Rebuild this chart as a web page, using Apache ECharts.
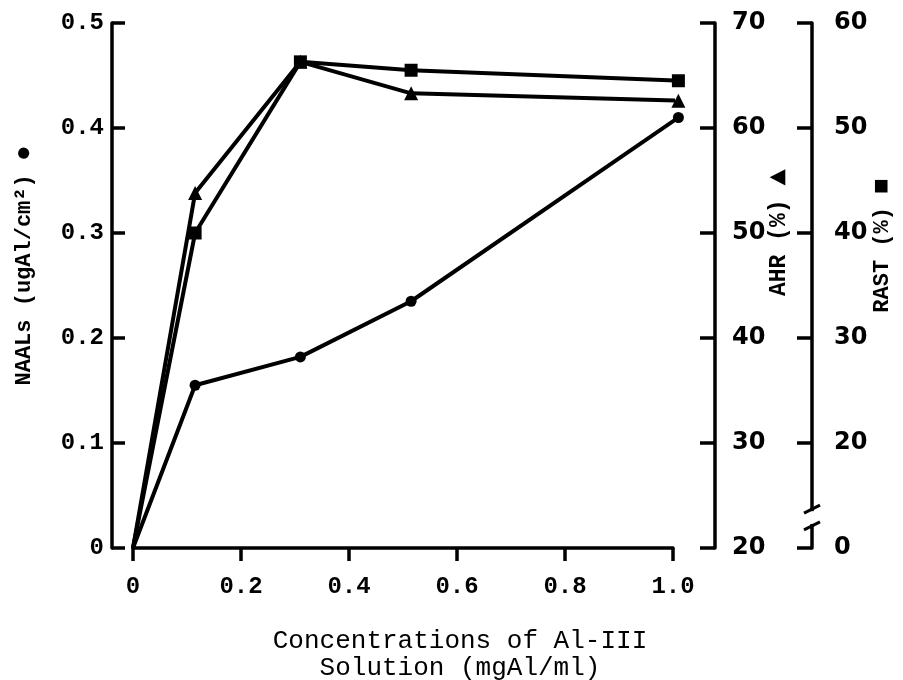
<!DOCTYPE html>
<html><head><meta charset="utf-8">
<script src="https://cdn.jsdelivr.net/npm/echarts@6/dist/echarts.min.js"></script>
<style>html,body{margin:0;padding:0;background:#fff}#c{width:903px;height:680px}</style>
</head><body><div id="c"></div>
<script>
// Concentrations of Al-III solution (mgAl/ml)
const concentrations = [0, 0.115, 0.31, 0.515, 1.01];
// NAALs (ugAl/cm2) - circles
const naals = [0, 0.155, 0.182, 0.235, 0.41];
// AHR (%) - triangles
const ahr = [20, 53.8, 66.3, 63.3, 62.6];
// RAST (%) - squares (axis broken between 0 and 10)
const rast = [0, 40, 56.3, 55.5, 54.5];

const xTickLabels = ['0', '0.2', '0.4', '0.6', '0.8', '1.0'];
const naalsTickLabels = ['0', '0.1', '0.2', '0.3', '0.4', '0.5'];
const ahrTickLabels = ['20', '30', '40', '50', '60', '70'];
const rastTickLabels = ['0', '20', '30', '40', '50', '60'];

const RAST_BREAK = 10; // values below this sit at the broken axis bottom
const rastPlot = v => (v < RAST_BREAK ? RAST_BREAK : v);

const MONO = 'Liberation Mono';
const SANS = 'DejaVu Sans';
const lineAxis = { show: true, onZero: false, lineStyle: { color: '#000', width: 3.5 } };

// origin point drawn without a marker, as in the figure
const pt = (x, y, i) => (i === 0 ? { value: [x, y], symbol: 'none' } : [x, y]);

const chart = echarts.init(document.getElementById('c'), null, { renderer: 'canvas' });
const option = {
  backgroundColor: '#fff',
  animation: false,
  grid: { left: 133, right: 230, top: 23, bottom: 132, containLabel: false, outerBoundsMode: 'none' },
  xAxis: {
    type: 'value', min: 0, max: 1.0, interval: 0.2,
    axisLine: lineAxis,
    axisTick: { show: true, inside: false, length: 13, lineStyle: { color: '#000', width: 3.5 } },
    splitLine: { show: false },
    axisLabel: {
      margin: 27, color: '#000', fontFamily: MONO, fontWeight: 'bold', fontSize: 24,
      formatter: (v, i) => xTickLabels[i]
    },
    name: 'Concentrations of Al-III\nSolution (mgAl/ml)',
    nameLocation: 'middle', nameGap: 80,
    nameTextStyle: { color: '#000', fontFamily: MONO, fontSize: 26, lineHeight: 27, padding: [0, 0, 0, 114] }
  },
  yAxis: [
    {
      type: 'value', min: 0, max: 0.5, interval: 0.1, position: 'left', offset: 21,
      axisLine: lineAxis,
      axisTick: { show: true, inside: true, length: 13, lineStyle: { color: '#000', width: 3.5 } },
      splitLine: { show: false },
      axisLabel: {
        margin: 8, color: '#000', fontFamily: MONO, fontWeight: 'bold', fontSize: 24,
        formatter: (v, i) => naalsTickLabels[i]
      },
      name: 'NAALs (ugAl/cm²) {s|●}', nameLocation: 'middle', nameRotate: 90, nameGap: 75,
      nameTextStyle: {
        color: '#000', fontFamily: MONO, fontWeight: 'bold', fontSize: 22, padding: [0, 0, 0, 40],
        rich: { s: { fontSize: 26, color: '#000' } }
      }
    },
    {
      type: 'value', min: 20, max: 70, interval: 10, position: 'right', offset: 42,
      axisLine: lineAxis,
      axisTick: { show: true, inside: true, length: 15, lineStyle: { color: '#000', width: 3.5 } },
      splitLine: { show: false },
      axisLabel: {
        margin: 17, color: '#000', fontFamily: SANS, fontWeight: 'bold', fontSize: 24,
        formatter: (v, i) => ahrTickLabels[i]
      },
      name: 'AHR (%) {s|▲}', nameLocation: 'middle', nameRotate: 90, nameGap: 50,
      nameMoveOverlap: false,
      nameTextStyle: {
        color: '#000', fontFamily: MONO, fontWeight: 'bold', fontSize: 23, padding: [0, 0, 0, 106],
        rich: { s: { fontSize: 28, color: '#000' } }
      }
    },
    {
      type: 'value', min: RAST_BREAK, max: 60, interval: 10, position: 'right', offset: 139,
      axisLine: lineAxis,
      axisTick: { show: true, inside: true, length: 15, lineStyle: { color: '#000', width: 3.5 } },
      splitLine: { show: false },
      axisLabel: {
        margin: 22, color: '#000', fontFamily: SANS, fontWeight: 'bold', fontSize: 24,
        formatter: (v, i) => rastTickLabels[i]
      },
      name: 'RAST (%) {s|■}', nameLocation: 'middle', nameRotate: 90, nameGap: 57,
      nameMoveOverlap: false,
      nameTextStyle: {
        color: '#000', fontFamily: MONO, fontWeight: 'bold', fontSize: 22, padding: [0, 0, 0, 80],
        rich: { s: { fontSize: 26, color: '#000' } }
      }
    }
  ],
  series: [
    {
      name: 'RAST', type: 'line', yAxisIndex: 2, clip: false,
      data: concentrations.map((x, i) => pt(x, rastPlot(rast[i]), i)),
      symbol: 'rect', symbolSize: 13,
      lineStyle: { color: '#000', width: 4 }, itemStyle: { color: '#000' }
    },
    {
      name: 'AHR', type: 'line', yAxisIndex: 1, clip: false,
      data: concentrations.map((x, i) => pt(x, ahr[i], i)),
      symbol: 'triangle', symbolSize: 14,
      lineStyle: { color: '#000', width: 4 }, itemStyle: { color: '#000' }
    },
    {
      name: 'NAALs', type: 'line', yAxisIndex: 0, clip: false,
      data: concentrations.map((x, i) => pt(x, naals[i], i)),
      symbol: 'circle', symbolSize: 11,
      lineStyle: { color: '#000', width: 4 }, itemStyle: { color: '#000' }
    }
  ]
};
chart.setOption(option);

// Axis-break symbol on the RAST axis, placed through the axis scales
const xRight = chart.convertToPixel({ xAxisIndex: 0 }, 1.0);
const rastX = xRight + 139;
const yA = chart.convertToPixel({ yAxisIndex: 2 }, 12.1);
const yB = chart.convertToPixel({ yAxisIndex: 2 }, 13.7);
chart.setOption({
  graphic: [
    { type: 'rect', z: 100, shape: { x: rastX - 5, y: yB + 2, width: 10, height: yA - yB - 4 }, style: { fill: '#fff' } },
    { type: 'line', z: 101, shape: { x1: rastX - 8, y1: yB + 4, x2: rastX + 8, y2: yB - 4 }, style: { stroke: '#000', lineWidth: 3 } },
    { type: 'line', z: 101, shape: { x1: rastX - 8, y1: yA + 4, x2: rastX + 8, y2: yA - 4 }, style: { stroke: '#000', lineWidth: 3 } }
  ]
});
</script>
</body></html>
